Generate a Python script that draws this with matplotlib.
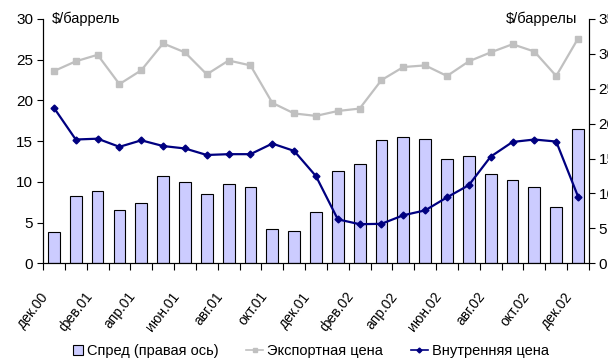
import numpy as np
import matplotlib.pyplot as plt
from matplotlib.lines import Line2D
from matplotlib.patches import Patch, Rectangle
from matplotlib.legend_handler import HandlerPatch
from matplotlib.transforms import ScaledTranslation

plt.rcParams['font.family'] = ['Liberation Sans', 'DejaVu Sans']

months = ['дек.00', 'янв.01', 'фев.01', 'мар.01', 'апр.01', 'май.01', 'июн.01', 'июл.01',
          'авг.01', 'сен.01', 'окт.01', 'ноя.01', 'дек.01', 'янв.02', 'фев.02', 'мар.02',
          'апр.02', 'май.02', 'июн.02', 'июл.02', 'авг.02', 'сен.02', 'окт.02', 'ноя.02', 'дек.02']

export_price = [23.6, 24.8, 25.6, 22.0, 23.7, 27.0, 25.9, 23.2, 24.9, 24.3, 19.7, 18.4, 18.1,
                18.7, 19.0, 22.5, 24.1, 24.3, 23.0, 24.8, 25.9, 26.9, 26.0, 23.0, 27.6]
domestic_price = [19.1, 15.2, 15.3, 14.3, 15.1, 14.4, 14.1, 13.3, 13.4, 13.4, 14.7, 13.8, 10.7,
                  5.4, 4.8, 4.85, 5.9, 6.5, 8.1, 9.6, 13.1, 14.9, 15.2, 14.95, 8.2]
spread = [4.5, 9.6, 10.4, 7.6, 8.6, 12.5, 11.7, 9.9, 11.4, 10.9, 4.9, 4.6, 7.4,
          13.2, 14.2, 17.6, 18.1, 17.8, 14.9, 15.3, 12.8, 11.9, 10.9, 8.0, 19.3]

x = np.arange(len(months))

fig = plt.figure(figsize=(6.08, 3.58), dpi=100)
ax = fig.add_axes([0.0707, 0.2645, 0.898, 0.6825])
ax2 = ax.twinx()

# спред - столбики по правой оси
ax2.bar(x, spread, width=0.54, color='#CCCCFF', edgecolor='black', linewidth=0.8)
ax2.set_ylim(0, 35)
ax2.set_yticks(np.arange(0, 36, 5))

# цены - линии по левой оси, поверх столбиков
ax.set_zorder(ax2.get_zorder() + 1)
ax.patch.set_visible(False)
ax.plot(x, export_price, color='#C0C0C0', lw=1.6, marker='s', ms=4.5, zorder=3)
ax.plot(x, domestic_price, color='#000080', lw=1.6, marker='D', ms=3.5, zorder=4)
ax.set_ylim(0, 30)
ax.set_yticks(np.arange(0, 31, 5))
ax.set_xlim(-0.5, len(months) - 0.5)

for a in (ax, ax2):
    a.spines['top'].set_visible(False)
    a.tick_params(labelsize=11, length=4, width=0.8, pad=3)

ax.set_xticks(x[::2])
ax.set_xticklabels(months[::2], rotation=52, ha='right', va='center',
                   rotation_mode='anchor', fontsize=10)
ax.tick_params(axis='x', length=0, pad=22)
shift = ScaledTranslation(-8 / 100, 0, fig.dpi_scale_trans)
for lbl in ax.get_xticklabels():
    lbl.set_transform(lbl.get_transform() + shift)
ax.set_xticks(np.arange(-0.5, len(months), 1), minor=True)
ax.tick_params(axis='x', which='minor', length=5, width=0.8, direction='out')

ax.text(0.016, 1.0, '$/баррель', transform=ax.transAxes, fontsize=10.5, va='center', ha='left')
ax.text(0.978, 1.0, '$/баррелы', transform=ax.transAxes, fontsize=10.5, va='center', ha='right')


def square_patch(legend, orig_handle, xdescent, ydescent, width, height, fontsize):
    s = height
    return Rectangle((width - s - xdescent, -ydescent + (height - s) / 2), s, s)


handles = [Patch(facecolor='#CCCCFF', edgecolor='black', linewidth=0.8),
           Line2D([], [], color='#C0C0C0', marker='s', ms=3, lw=1.2),
           Line2D([], [], color='#000080', marker='D', ms=2.5, lw=1.2)]
labels = ['Спред (правая ось)', 'Экспортная цена', 'Внутренняя цена']
fig.legend(handles, labels, loc='center', bbox_to_anchor=(0.505, 0.02), ncol=3,
           frameon=False, fontsize=10.5, handlelength=1.2, handletextpad=0.25,
           columnspacing=1.9, borderpad=0.1,
           handler_map={Patch: HandlerPatch(patch_func=square_patch)})

fig.savefig('out.png', dpi=100)
